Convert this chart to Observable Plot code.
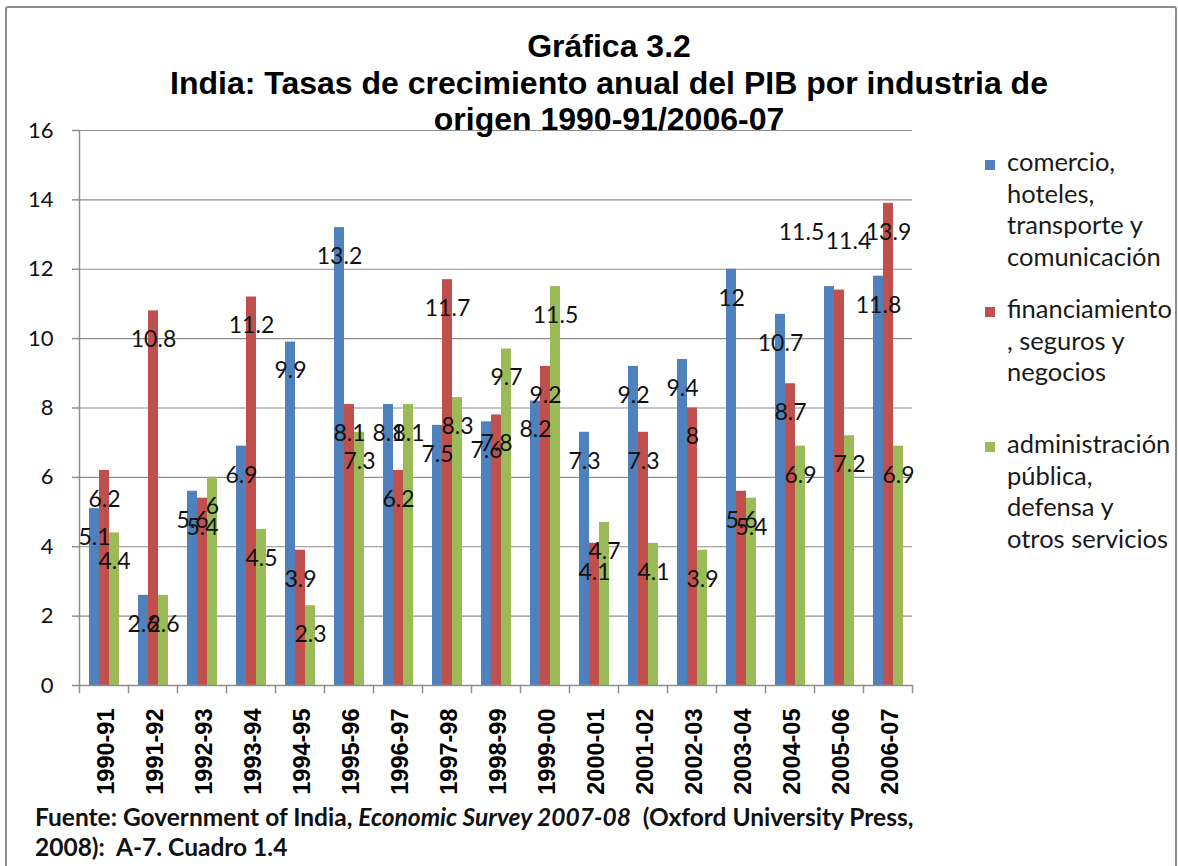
<!DOCTYPE html>
<html><head><meta charset="utf-8">
<script src="https://cdn.jsdelivr.net/npm/d3@7"></script>
<script src="https://cdn.jsdelivr.net/npm/@observablehq/plot@0.6"></script>
<style>
body{margin:0;background:#fff;}
#wrap{position:relative;width:1178px;height:866px;overflow:hidden;background:#fff;}
#border{position:absolute;left:5px;top:6px;width:1168px;height:900px;border:2px solid #8c8c8c;border-radius:3px;}
#chart{position:absolute;left:0;top:0;}
#title{position:absolute;left:0;top:28px;width:1218px;text-align:center;font-family:"Liberation Sans",Arial,sans-serif;font-weight:bold;font-size:32px;line-height:36.5px;color:#000;white-space:nowrap;}
.leg{position:absolute;left:985px;font-family:Lato,sans-serif;font-size:25.5px;line-height:31.5px;color:#1a1a1a;}
.leg .sw{position:absolute;left:0;width:10px;height:10px;}
.leg .tx{position:absolute;left:22px;white-space:nowrap;}
#caption{position:absolute;left:35px;top:802px;font-family:Lato,sans-serif;font-weight:bold;font-size:24.5px;line-height:30px;color:#111;white-space:pre;}
</style>
</head><body>
<div id="wrap">
  <div id="border"></div>
  <div id="chart"></div>
  <div id="title"></div>
  <div id="legend"></div>
  <div id="caption"></div>
</div>
<script>
// ---- data ----
const years = ["1990-91","1991-92","1992-93","1993-94","1994-95","1995-96","1996-97","1997-98","1998-99","1999-00","2000-01","2001-02","2002-03","2003-04","2004-05","2005-06","2006-07"];
const seriesNames = [
  "comercio, hoteles, transporte y comunicación",
  "financiamiento, seguros y negocios",
  "administración pública, defensa y otros servicios"
];
const comercio = [5.1, 2.6, 5.6, 6.9, 9.9, 13.2, 8.1, 7.5, 7.6, 8.2, 7.3, 9.2, 9.4, 12, 10.7, 11.5, 11.8];
const financiamiento = [6.2, 10.8, 5.4, 11.2, 3.9, 8.1, 6.2, 11.7, 7.8, 9.2, 4.1, 7.3, 8, 5.6, 8.7, 11.4, 13.9];
const administracion = [4.4, 2.6, 6, 4.5, 2.3, 7.3, 8.1, 8.3, 9.7, 11.5, 4.7, 4.1, 3.9, 5.4, 6.9, 7.2, 6.9];
const yTicks = [0, 2, 4, 6, 8, 10, 12, 14, 16];
const legendLines = [
  ["comercio,", "hoteles,", "transporte y", "comunicación"],
  ["financiamiento", ", seguros y", "negocios"],
  ["administración", "pública,", "defensa y", "otros servicios"]
];
const titleLines = ["Gráfica 3.2", "India: Tasas de crecimiento anual del PIB por industria de", "origen 1990-91/2006-07"];

// ---- styles / layout ----
const colors = ["#4F81BD", "#C0504D", "#9BBB59"];
const gridColor = "#8e8e8e";
// label nudges (two labels were moved by hand in the original)
const nudges = {"2005-06|0": {dx: -28, dy: -54}, "2005-06|1": {dx: 9, dy: -48}};

const seriesValues = [comercio, financiamiento, administracion];
const data = [];
seriesNames.forEach((s, si) => years.forEach((y, yi) => data.push({year: y, series: s, si, value: seriesValues[si][yi], key: y + "|" + si})));

const plain = data.filter(d => !nudges[d.key]);
const nudgeMarks = Object.entries(nudges).map(([k, n]) =>
  Plot.text(data.filter(d => d.key === k), {fx: "year", x: "series", y: "value", text: d => String(d.value), dx: n.dx, dy: n.dy, fontSize: 23, fill: "#111"}));

const H = 800;
const chart = Plot.plot({
  width: 1178,
  height: H,
  marginLeft: 73,
  marginRight: 260,
  marginTop: 130,
  marginBottom: H - 685,
  style: {fontFamily: "Lato, sans-serif", fontSize: "22px", color: "#111", background: "transparent", overflow: "visible"},
  fx: {domain: years, padding: 0, label: null},
  x: {domain: seriesNames, paddingInner: 0, paddingOuter: 0.78, axis: null},
  y: {domain: [0, 16]},
  color: {domain: seriesNames, range: colors},
  marks: [
    Plot.gridY(yTicks, {stroke: gridColor, strokeOpacity: 1, strokeWidth: 1.2}),
    Plot.barY(data, {fx: "year", x: "series", y: "value", fill: "series"}),
    Plot.ruleY([0], {stroke: gridColor, strokeWidth: 1.5}),
    Plot.frame({anchor: "left", facetAnchor: "left", stroke: gridColor, strokeWidth: 1.5}),
    Plot.frame({anchor: "left", insetTop: 685 - 130, insetBottom: -7, stroke: gridColor, strokeWidth: 1.5}),
    Plot.frame({anchor: "right", facetAnchor: "right", insetTop: 685 - 130, insetBottom: -7, stroke: gridColor, strokeWidth: 1.5}),
    Plot.axisY(yTicks, {tickSize: 7, tickPadding: 19, stroke: gridColor, strokeWidth: 1.5, fontSize: 22, fill: "#111", label: null}),
    Plot.axisFx({anchor: "bottom", tickRotate: -90, tickSize: 0, tickPadding: 23, fontSize: 23.5, fontWeight: "bold", fontFamily: "Liberation Sans, Arial, sans-serif", fill: "#000", dx: 2, label: null}),
    Plot.text(plain, {fx: "year", x: "series", y: "value", text: d => String(d.value), dy: 29, fontSize: 23, fill: "#111"}),
    ...nudgeMarks
  ]
});
document.getElementById("chart").appendChild(chart);

// title
document.getElementById("title").innerHTML = titleLines.map(t => `<div>${t}</div>`).join("");

// legend
const legendTops = [146, 293, 428];
const legend = document.getElementById("legend");
legendLines.forEach((lines, i) => {
  const item = document.createElement("div");
  item.className = "leg";
  item.style.top = legendTops[i] + "px";
  item.innerHTML = `<div class="sw" style="background:${colors[i]};top:14px"></div><div class="tx">${lines.join("<br>")}</div>`;
  legend.appendChild(item);
});

// caption
document.getElementById("caption").innerHTML =
  "Fuente: Government of India, <i>Economic Survey 2007-08</i>  (Oxford University Press,\n2008):  A-7. Cuadro 1.4";
</script>
</body></html>
